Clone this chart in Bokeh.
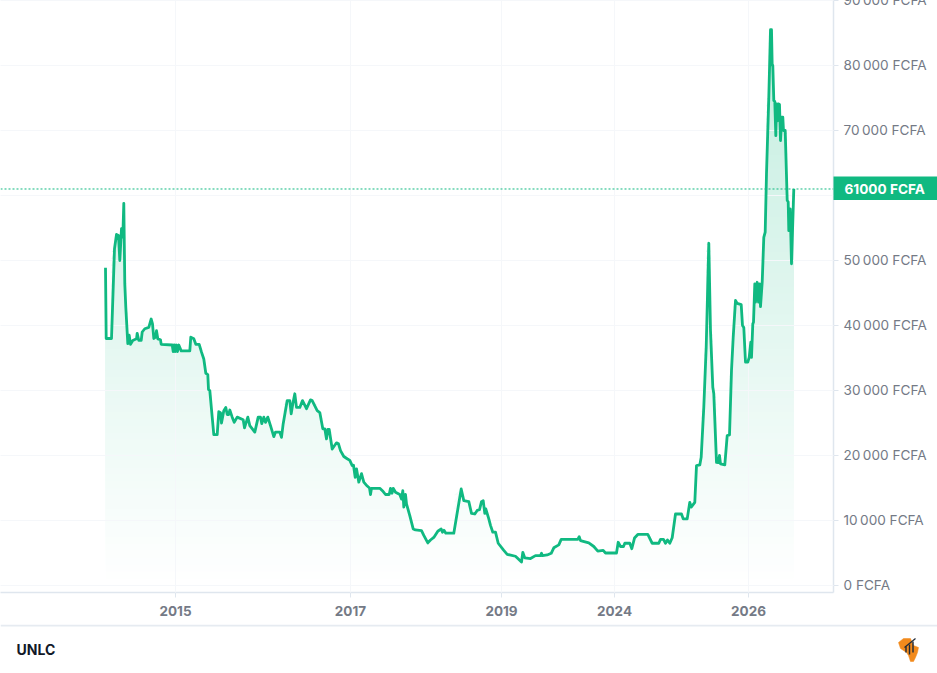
import numpy as np
from bokeh.core.properties import value
from bokeh.embed import file_html
from bokeh.resources import INLINE
from bokeh.plotting import figure
from bokeh.models import Span, FixedTicker

# chart data: session position on the index axis, closing price in FCFA
sessions = [105,105.7,111,114,116,118,119.3,121,122.3,123.3,124.3,125.3,127.3,128.7,130,132.3,136,136.7,138.3,140.7,141.7,144.3,148.3,150.7,152,153.3,155,156,157.3,160,160.7,171.7,172.7,173.7,174.7,176,177,178.3,180.7,189.3,190.3,193.3,195.3,198.7,201,203.3,205.3,207.3,208,209.3,211.7,213.3,216.7,218.3,220,221,223.3,225.3,226.7,228.3,229.3,231.7,233.7,236.7,242.7,244,247.3,249.3,254.3,257.7,260,261.3,263.3,265,267.3,270,273.3,275,279.3,281,282.7,286.7,289.3,290.7,292.3,294.3,296,299.3,302,306,310,311.7,316.7,319.3,322.3,324.3,326,327.3,328.7,331.7,336,338,340,343.3,346.7,349.3,351.7,353,354.7,356,358.3,361,363.3,366.7,369,370,371,379.3,382.7,385,388.7,390,391.5,392.7,395,399.3,401,402.3,403.3,405,406,409.3,412.7,415,421,423.3,427.3,430,433.3,437.3,440.7,442,443.5,445.3,453.3,460.7,463.3,468.3,471,474.3,476.7,479,481,482.7,484.3,485.3,488.3,490,492.3,495,497.7,503.3,506.7,515,521,522.3,524.3,530,535,540,541,542,546.7,550.7,553.3,558.3,560.7,577.3,578.7,580,588.3,593.3,597.3,602.7,605,616,617.7,620,623,624.3,629.3,631.3,634,637.3,647.3,651.7,658.3,660,663,665,667,669.3,671.7,675,681,682.7,686.7,689.3,690.7,694.3,696,699.3,700.7,703.3,705.7,708.3,710,712.3,713.3,716,717.7,719,720,724.3,726.7,729,731,732.7,735,736.7,740.7,742,743.3,745,747.3,748.7,750.3,751,752.3,753,754.3,755,756.7,758,759.3,760,761.7,763.3,764.7,766,768.3,770,771,771.7,772.3,773.3,774.3,775.3,776,777,777.7,779,780,781.3,782.3,783,784.7,786.7,787.7,788.3,789.7,791,793.3]
prices = [48900,38000,38000,51800,54000,53850,50000,54900,53600,58800,46400,42800,37200,38500,37100,37700,37950,38800,37700,37700,39000,39500,39700,41000,40250,38000,38200,39200,37950,37800,37100,37000,36000,37000,36000,37000,36000,37000,36100,36100,38200,37950,37100,37100,35900,34850,32650,32450,30150,30000,25900,23200,23200,26750,26600,25000,26900,27400,26300,26300,27000,25900,25100,25900,25500,24250,25900,24600,23600,25900,25900,24900,25900,25100,25900,24600,22900,23600,23600,22800,24900,28450,28450,26400,27950,29500,27400,27400,28450,27200,28550,28450,26900,26600,24100,24100,22550,24000,24000,21000,21950,21800,20750,19850,19500,19250,18450,18500,16650,17950,15900,17200,15900,15300,15000,14000,14950,14950,14450,14000,14000,14950,14200,14950,14350,14000,13300,14600,12050,14000,12550,10750,8700,8550,8450,7700,6550,7000,7400,8350,8700,8200,8500,8050,8050,14850,13050,12900,11100,11000,11550,11650,12900,13050,11100,11800,10250,9250,8200,8200,6500,5400,4800,4500,3600,5100,4250,4150,4600,4600,4950,4600,4700,4950,5800,6250,7100,7100,7500,6900,6550,6000,5300,5400,5000,5000,6650,6000,6000,6500,6500,5650,7300,7850,7850,6500,6500,7100,7100,6500,7000,6500,7350,11000,11000,10250,10250,12800,12050,12800,18450,18550,19750,27450,36650,52650,39200,30500,29500,18950,18900,20000,18700,18550,23050,23150,33100,38200,43850,43400,43200,40000,39700,34350,34350,35100,37450,35100,40250,40500,46400,43600,46650,43600,46400,42900,46650,53550,54350,63350,75100,85500,85500,80000,80000,74600,74450,69200,74100,71500,74100,74000,68450,72050,72050,70000,70000,59250,59000,54600,57950,49500,61000]
last_price = 61000
price_ticks = [0,10000,20000,30000,40000,50000,60000,70000,80000,90000]
price_labels = ["0 FCFA","10\u202f000 FCFA","20\u202f000 FCFA","30\u202f000 FCFA","40\u202f000 FCFA","50\u202f000 FCFA","","70\u202f000 FCFA","80\u202f000 FCFA","90\u202f000 FCFA"]
date_ticks = [175,350,501,614,748]
date_labels = ["2015","2017","2019","2024","2026"]
last_label = "61000 FCFA"
ticker_name = "UNLC"

# logo shapes (footer pixel grid)
logo_x = [898,903,910,913,918,917,915,913,910,908,906,900]
logo_y = [642,638,638,645,647,652,657,661,661,655,652,648]
bar_x = [905.5,909,912.5]
bar_top = [646,644,641]
bar_bottom = [652,654,652]

GREEN = "#10b981"
GRID = "#f5f7fa"
AXIS = "#dfe6ee"
MUTED = "#747a86"
OVERSCAN = 20  # the top tick label sits half outside the window, so the canvas starts above it
Y_MIN = -1077
PX_PER_FCFA = 0.0065

sessions = np.array(sessions, dtype=float)
prices = np.array(prices, dtype=float)

p = figure(width=937, height=624 + OVERSCAN, output_backend="svg", toolbar_location=None,
           x_range=(0, 833), y_range=(Y_MIN, 90000 + OVERSCAN / PX_PER_FCFA),
           x_axis_location="below", y_axis_location="right",
           min_border_left=0, min_border_top=0, min_border_right=104, min_border_bottom=32,
           background_fill_color="white", border_fill_color="white", outline_line_color=None)
p.styles = {"position": "absolute", "left": "0", "top": f"-{OVERSCAN}px"}

# vertical fade of the area under the price: opaque bands painted from the bottom up
LAYERS = 80
top = prices.max()
for k in range(LAYERS):
    floor = top * k / LAYERS
    a = 0.25 * (k + 0.5) / LAYERS
    r, g, b = (round(255 - (255 - c) * a) for c in (16, 185, 129))
    p.varea(x=sessions, y1=np.maximum(prices, floor), y2=np.full_like(prices, floor),
            fill_color=f"#{r:02x}{g:02x}{b:02x}")

p.line(sessions, prices, line_color=GREEN, line_width=2.8, line_join="round", level="overlay")
p.add_layout(Span(location=last_price, dimension="width", line_color=GREEN, line_width=1, line_dash=[2, 2]))

for ax, ticks, labels in ((p.xaxis[0], date_ticks, date_labels), (p.yaxis[0], price_ticks, price_labels)):
    ax.ticker = FixedTicker(ticks=ticks)
    ax.major_label_overrides = dict(zip(ticks, labels))
    ax.axis_line_color = AXIS
    ax.axis_line_width = 1.5
    ax.major_tick_line_color = AXIS
    ax.major_tick_out = 5
    ax.major_tick_in = 0
    ax.minor_tick_line_color = None
    ax.major_label_text_color = MUTED
    ax.major_label_text_font = "Inter"
p.xaxis[0].major_label_text_font_size = "13.5px"
p.yaxis[0].major_label_text_font_size = "13.6px"
p.xaxis[0].major_label_text_font_style = "bold"
p.xaxis[0].major_label_standoff = 8
p.yaxis[0].major_label_standoff = 5

for g, ticks in ((p.xgrid[0], date_ticks), (p.ygrid[0], price_ticks)):
    g.ticker = FixedTicker(ticks=ticks)
    g.grid_line_color = GRID
    g.level = "annotation"

foot = figure(width=937, height=49, output_backend="svg", toolbar_location=None,
              x_range=(0, 937), y_range=(673, 624), min_border=0,
              background_fill_color="white", border_fill_color="white", outline_line_color=None)
foot.styles = {"position": "absolute", "left": "0", "top": "624px"}
foot.axis.visible = False
foot.grid.visible = False
foot.add_layout(Span(location=625, dimension="width", line_color="#e6ebf1", line_width=2))
foot.text(x=[16], y=[649], text=[ticker_name], text_color="#111827", text_font=value("Inter"),
          text_font_size="14px", text_font_style="bold", text_baseline="middle")
foot.patch(logo_x, logo_y, fill_color="#f28a1c", line_color="#f28a1c", line_width=0.5)
foot.segment(x0=bar_x, y0=bar_top, x1=bar_x, y1=bar_bottom, line_color="#1f2937", line_width=1.4)
foot.line([904, 915], [647, 638], line_color="#1f2937", line_width=1.2)

# last-price badge: its own small panel laid over the right axis, centred on the price level
BADGE_H = 24
badge_top = round((90000 - last_price) * PX_PER_FCFA - BADGE_H / 2)
badge = figure(width=104, height=BADGE_H, output_backend="svg", toolbar_location=None,
               x_range=(0, 104), y_range=(0, BADGE_H), min_border=0,
               background_fill_color=GREEN, border_fill_color=GREEN, outline_line_color=None)
badge.styles = {"position": "absolute", "left": "833px", "top": f"{badge_top}px"}
badge.axis.visible = False
badge.grid.visible = False
badge.text(x=[11], y=[BADGE_H / 2], text=[last_label], text_color="white", text_font=value("Inter"),
           text_font_size="13.6px", text_font_style="bold", text_baseline="middle")

open("out.html", "w").write(file_html([p, foot, badge], INLINE))
